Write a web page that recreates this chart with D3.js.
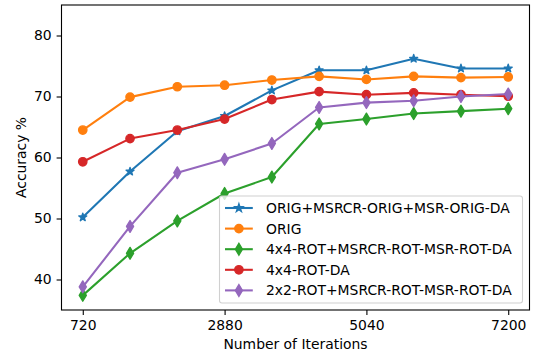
<!DOCTYPE html>
<html>
<head>
<meta charset="utf-8">
<script src="https://cdn.jsdelivr.net/npm/d3@7"></script>
<style>
  body { margin: 0; background: #fff; }
  svg { display: block; font-family: "DejaVu Sans", sans-serif; }
</style>
</head>
<body>
<div id="chart"></div>
<script>
// data
const iterations = [720, 1440, 2160, 2880, 3600, 4320, 5040, 5760, 6480, 7200];
const xTicks = [720, 2880, 5040, 7200];
const yTicks = [40, 50, 60, 70, 80];

const origMsrDa = [50.2, 57.7, 64.3, 66.8, 71.0, 74.3, 74.3, 76.2, 74.6, 74.6];
const orig = [64.5, 69.9, 71.6, 71.85, 72.7, 73.3, 72.8, 73.3, 73.1, 73.2];
const rot4MsrDa = [37.4, 44.3, 49.6, 54.1, 56.8, 65.5, 66.3, 67.2, 67.6, 68.0];
const rot4Da = [59.3, 63.1, 64.5, 66.3, 69.5, 70.8, 70.3, 70.6, 70.3, 70.05];
const rot2MsrDa = [38.8, 48.7, 57.5, 59.7, 62.3, 68.2, 69.0, 69.3, 70.0, 70.4];

const seriesNames = [
  'ORIG+MSRCR-ORIG+MSR-ORIG-DA',
  'ORIG',
  '4x4-ROT+MSRCR-ROT-MSR-ROT-DA',
  '4x4-ROT-DA',
  '2x2-ROT+MSRCR-ROT-MSR-ROT-DA'
];
const seriesValues = [origMsrDa, orig, rot4MsrDa, rot4Da, rot2MsrDa];
const seriesColors = ['#1f77b4', '#ff7f0e', '#2ca02c', '#d62728', '#9467bd'];
const seriesMarkers = ['star', 'circle', 'diamond', 'circle', 'diamond'];

const W = 538, H = 356;
const pLeft = 61.5, pRight = 529.5, pTop = 5, pBottom = 310;
const fs = 13.9;
const ms = 8.33; // marker size

const svg = d3.select('#chart').append('svg')
  .attr('width', W).attr('height', H);

const x = d3.scaleLinear().domain([396, 7524]).range([pLeft, pRight]);
const y = d3.scaleLinear().domain([35, 85]).range([pBottom, pTop]);

function markerPath(kind) {
  if (kind === 'circle') {
    return d3.arc()({ innerRadius: 0, outerRadius: ms / 2, startAngle: 0, endAngle: 2 * Math.PI });
  }
  if (kind === 'star') {
    const R = ms / 2, r = R * 0.381966;
    const pts = d3.range(10).map(i => {
      const a = -Math.PI / 2 + i * Math.PI / 5;
      const rad = i % 2 === 0 ? R : r;
      return [rad * Math.cos(a), rad * Math.sin(a)];
    });
    return 'M' + pts.map(p => p.join(',')).join('L') + 'Z';
  }
  // thin diamond
  const h = ms * Math.SQRT2 / 2, w = h * 0.6;
  return `M0,${-h}L${w},0L0,${h}L${-w},0Z`;
}

// axes
const xAxis = d3.axisBottom(x).tickValues(xTicks).tickFormat(d3.format('d'))
  .tickSize(4.9).tickPadding(4.9);
const yAxis = d3.axisLeft(y).tickValues(yTicks).tickFormat(d3.format('d'))
  .tickSize(4.9).tickPadding(4.9);

const gx = svg.append('g')
  .attr('transform', 'translate(0,' + pBottom + ')')
  .call(xAxis);
const gy = svg.append('g')
  .attr('transform', 'translate(' + pLeft + ',0)')
  .call(yAxis);
[gx, gy].forEach(g => {
  g.select('.domain').remove();
  g.selectAll('line').attr('stroke', '#000').attr('stroke-width', 1.1);
  g.selectAll('text').attr('font-size', fs).attr('fill', '#000')
    .attr('font-family', '"DejaVu Sans", sans-serif');
});

// lines and markers
const line = d3.line().x((d, i) => x(iterations[i])).y(d => y(d));
const plot = svg.append('g');

seriesValues.forEach((vals, s) => {
  const g = plot.append('g');
  g.append('path')
    .datum(vals)
    .attr('d', line)
    .attr('fill', 'none')
    .attr('stroke', seriesColors[s])
    .attr('stroke-width', 2.08)
    .attr('stroke-linejoin', 'round');
  g.selectAll('path.mk')
    .data(vals)
    .enter().append('path')
    .attr('class', 'mk')
    .attr('d', markerPath(seriesMarkers[s]))
    .attr('transform', (d, i) => 'translate(' + x(iterations[i]) + ',' + y(d) + ')')
    .attr('fill', seriesColors[s])
    .attr('stroke', seriesColors[s])
    .attr('stroke-width', 1.39)
    .attr('stroke-linejoin', 'round');
});

// frame
svg.append('rect')
  .attr('x', pLeft).attr('y', pTop)
  .attr('width', pRight - pLeft).attr('height', pBottom - pTop)
  .attr('fill', 'none').attr('stroke', '#000').attr('stroke-width', 1.1);

// axis labels
svg.append('text')
  .attr('x', (pLeft + pRight) / 2).attr('y', 349)
  .attr('text-anchor', 'middle')
  .attr('font-size', fs)
  .text('Number of Iterations');
svg.append('text')
  .attr('transform', 'translate(26,' + (pTop + pBottom) / 2 + ') rotate(-90)')
  .attr('text-anchor', 'middle')
  .attr('font-size', fs)
  .text('Accuracy %');

// legend
const lgRight = pRight - 7, lgBottom = pBottom - 7;
const rowH = 20.6;
const lgW = 303, lgH = seriesNames.length * rowH + 4;
const lgLeft = lgRight - lgW, lgTop = lgBottom - lgH;
const legend = svg.append('g');
legend.append('rect')
  .attr('x', lgLeft).attr('y', lgTop)
  .attr('width', lgW).attr('height', lgH)
  .attr('rx', 2.5)
  .attr('fill', 'rgba(255,255,255,0.8)')
  .attr('stroke', '#d0d0d0').attr('stroke-width', 1.1);

seriesNames.forEach((name, s) => {
  const cy = lgTop + 12 + s * rowH;
  const hx = lgLeft + 5.5;
  legend.append('line')
    .attr('x1', hx).attr('x2', hx + 27.8)
    .attr('y1', cy).attr('y2', cy)
    .attr('stroke', seriesColors[s]).attr('stroke-width', 2.08);
  legend.append('path')
    .attr('d', markerPath(seriesMarkers[s]))
    .attr('transform', 'translate(' + (hx + 13.9) + ',' + cy + ')')
    .attr('fill', seriesColors[s])
    .attr('stroke', seriesColors[s])
    .attr('stroke-width', 1.39);
  legend.append('text')
    .attr('x', hx + 41)
    .attr('y', cy + 5)
    .attr('font-size', fs)
    .text(name);
});
</script>
</body>
</html>
